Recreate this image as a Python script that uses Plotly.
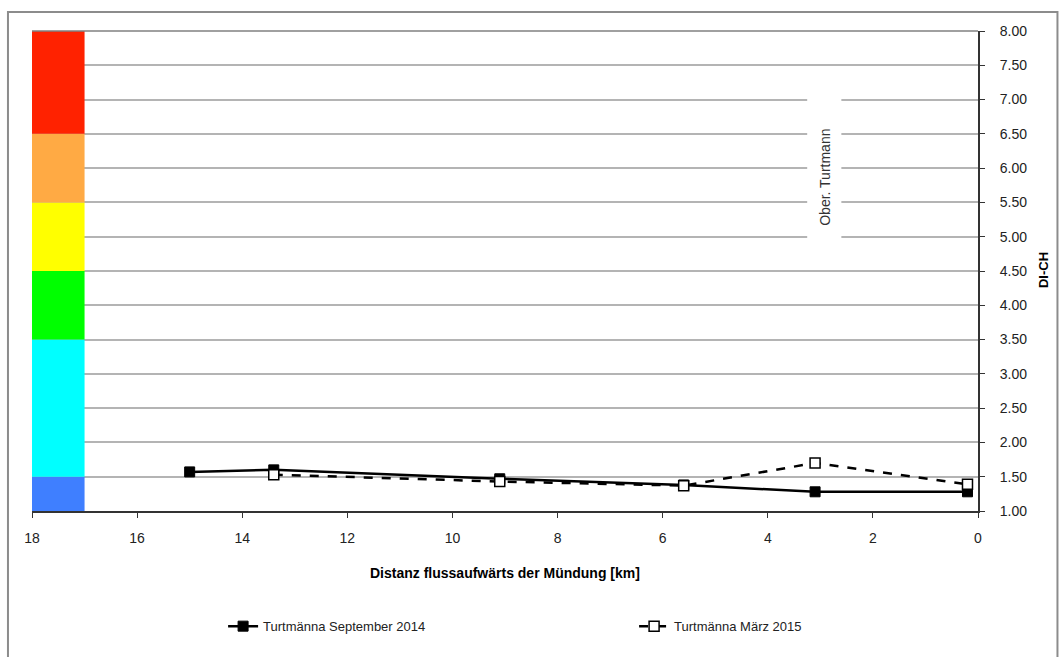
import plotly.graph_objects as go

# Distance upstream of the mouth [km] and DI-CH index per sampling campaign
km_sep_2014 = [15.0, 13.4, 9.1, 5.6, 3.1, 0.2]
dich_sep_2014 = [1.57, 1.60, 1.47, 1.38, 1.28, 1.28]

km_mar_2015 = [13.4, 9.1, 5.6, 3.1, 0.2]
dich_mar_2015 = [1.53, 1.43, 1.37, 1.70, 1.39]

# Quality classes shown as a colour scale on the left edge
class_bounds = [(1.0, 1.5), (1.5, 3.5), (3.5, 4.5), (4.5, 5.5), (5.5, 6.5), (6.5, 8.0)]
class_colors = ["#3f7fff", "#00ffff", "#00ff00", "#ffff00", "#ffaa44", "#ff2200"]

y_ticks = [1.0, 1.5, 2.0, 2.5, 3.0, 3.5, 4.0, 4.5, 5.0, 5.5, 6.0, 6.5, 7.0, 7.5, 8.0]
x_ticks = [18, 16, 14, 12, 10, 8, 6, 4, 2, 0]

FONT = "Liberation Sans Narrow, Liberation Sans, Arial, sans-serif"

fig = go.Figure()

fig.add_trace(go.Scatter(
    x=km_sep_2014, y=dich_sep_2014, name="Turtmänna September 2014",
    mode="lines+markers",
    line=dict(color="black", width=2.5),
    marker=dict(symbol="square", size=10, color="black", line=dict(color="black", width=1)),
))
fig.add_trace(go.Scatter(
    x=km_mar_2015, y=dich_mar_2015, name="Turtmänna März 2015",
    mode="lines+markers",
    line=dict(color="black", width=2.5, dash="dash"),
    marker=dict(symbol="square", size=10, color="white", line=dict(color="black", width=1.5)),
))

shapes = []
for (lo, hi), col in zip(class_bounds, class_colors):
    shapes.append(dict(type="rect", xref="x", yref="y", x0=18, x1=17, y0=lo, y1=hi,
                       fillcolor=col, line=dict(width=0), layer="between"))

# blank strip behind the vertical site label
shapes.append(dict(type="rect", xref="x", yref="y", x0=3.25, x1=2.6, y0=4.8, y1=7.2,
                   fillcolor="white", line=dict(width=0), layer="between"))
# top frame line of the plot area
shapes.append(dict(type="line", xref="paper", yref="paper", x0=0, x1=1, y0=1, y1=1,
                   line=dict(color="#808080", width=1.5)))
# outer chart border
shapes.append(dict(type="rect", xref="paper", yref="paper", x0=-0.0254, x1=1.084,
                   y0=-0.33, y1=1.0396, line=dict(color="#8c8c8c", width=2),
                   fillcolor="rgba(0,0,0,0)", layer="above"))

annotations = [
    dict(text="Ober. Turtmann", x=2.91, y=5.86, xref="x", yref="y", textangle=-90,
         showarrow=False, xanchor="center", yanchor="middle",
         font=dict(family=FONT, size=14, color="#333333")),
    dict(text="<b>DI-CH</b>", x=1.0687, y=0.502, xref="paper", yref="paper", textangle=-90,
         showarrow=False, xanchor="center", yanchor="middle",
         font=dict(family=FONT, size=13, color="black")),
    dict(text="<b>Distanz flussaufwärts der Mündung [km]</b>", x=0.5, y=-0.129,
         xref="paper", yref="paper", showarrow=False, xanchor="center", yanchor="middle",
         font=dict(family=FONT, size=14, color="black")),
]

fig.update_layout(
    width=1059, height=657,
    margin=dict(l=32, r=81, t=31, b=146, autoexpand=False),
    paper_bgcolor="white", plot_bgcolor="white",
    font=dict(family=FONT, size=14, color="#222222"),
    shapes=shapes, annotations=annotations,
    showlegend=True,
    legend=dict(orientation="h", x=0.202, y=-0.24, xanchor="left", yanchor="middle",
                entrywidth=366, entrywidthmode="pixels", itemwidth=30,
                font=dict(family=FONT, size=13, color="#222222")),
    xaxis=dict(range=[18, 0], tickvals=x_ticks, ticks="outside", ticklen=5,
               ticklabelstandoff=8, automargin=False,
               showgrid=False, zeroline=False, showline=True, linecolor="#333333",
               linewidth=2, tickcolor="#333333"),
    yaxis=dict(range=[1, 8], side="right", tickvals=y_ticks, tickformat=".2f",
               ticks="outside", ticklen=5, ticklabelstandoff=12, automargin=False,
               showgrid=True, gridcolor="#b4b4b4",
               gridwidth=1.5, zeroline=False, showline=True, linecolor="#333333",
               linewidth=2, tickcolor="#333333"),
)

fig.write_html("out.html")
